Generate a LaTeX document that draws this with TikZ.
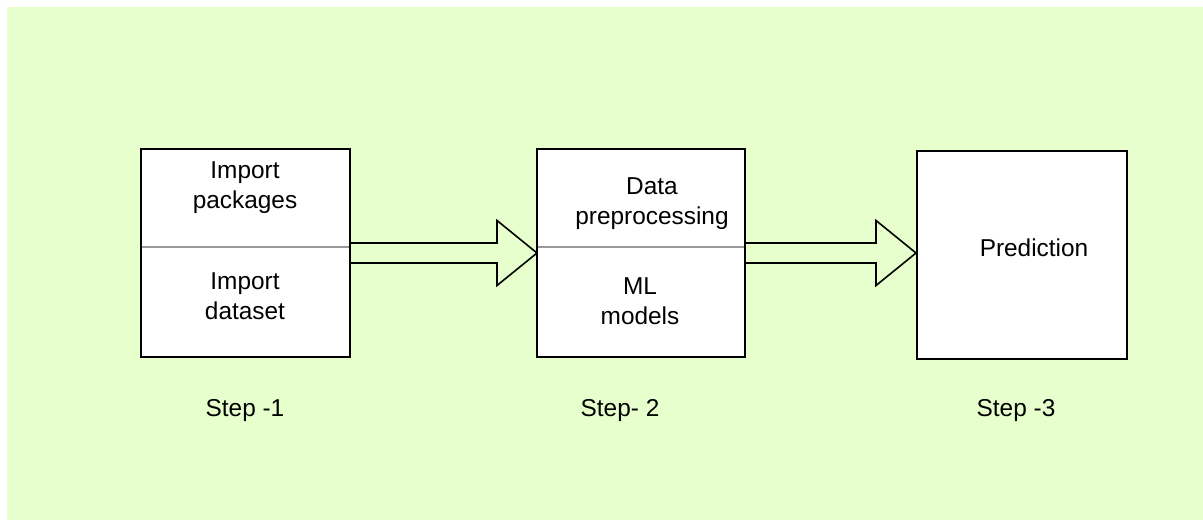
\documentclass[tikz,border=0pt]{standalone}
\usepackage{fontspec}
\setmainfont{Liberation Sans}
\usetikzlibrary{calc}
\definecolor{bggreen}{HTML}{E6FFCC}
\definecolor{divgray}{HTML}{999999}
\tikzset{
	stepbox/.style={draw=black,line width=0.8pt,fill=white,inner sep=0pt,outer sep=0pt},
	steptext/.style={align=center,inner sep=0pt,font=\fontsize{12.2}{15}\selectfont},
	blockarrow/.style={draw=black,line width=0.8pt,line join=miter}
}
\begin{document}
\begin{tikzpicture}[x=0.5pt,y=-0.5pt]
	\useasboundingbox (0,0) rectangle (1203,520);
	\fill[bggreen] (7,7) rectangle (1203,520);
	% the three boxes
	\node[stepbox,minimum width=104.5pt,minimum height=104pt] (box1) at (245.5,253) {};
	\node[stepbox,minimum width=104pt,minimum height=104pt] (box2) at (641,253) {};
	\node[stepbox,minimum width=105pt,minimum height=104pt] (box3) at (1022,255) {};
	\draw[divgray,line width=0.7pt] ($(box1.north west)+(0.8,98)$) -- ($(box1.north east)+(-0.8,98)$);
	\draw[divgray,line width=0.7pt] ($(box2.north west)+(0.8,98)$) -- ($(box2.north east)+(-0.8,98)$);
	\node[steptext] (pkg) at (245,188) {Import\\packages};
	\node[steptext] (data) at (245,296) {Import\\dataset};
	\node[steptext] (prep) at (652,204) {Data\\preprocessing};
	\node[steptext] (ml) at (640,301) {ML\\models};
	\node[steptext] (pred) at (1034,248) {Prediction};
	% arrows
	\draw[blockarrow] ($(box1.east)+(0,-10)$) -- ($(box2.west)+(-40,-10)$) -- ($(box2.west)+(-40,-32.5)$) -- (box2.west)
		-- ($(box2.west)+(-40,32.5)$) -- ($(box2.west)+(-40,10)$) -- ($(box1.east)+(0,10)$) -- cycle;
	\coordinate (tip2) at ($(box2.east -| box3.west)+(-1,0)$);
	\draw[blockarrow] ($(box2.east)+(0,-10)$) -- ($(tip2)+(-40,-10)$) -- ($(tip2)+(-40,-32.5)$) -- (tip2)
		-- ($(tip2)+(-40,32.5)$) -- ($(tip2)+(-40,10)$) -- ($(box2.east)+(0,10)$) -- cycle;
	% labels
	\node[steptext] (s1) at (245,411) {Step -1};
	\node[steptext] (s2) at (620,411) {Step- 2};
	\node[steptext] (s3) at (1016,411) {Step -3};
\end{tikzpicture}
\end{document}
